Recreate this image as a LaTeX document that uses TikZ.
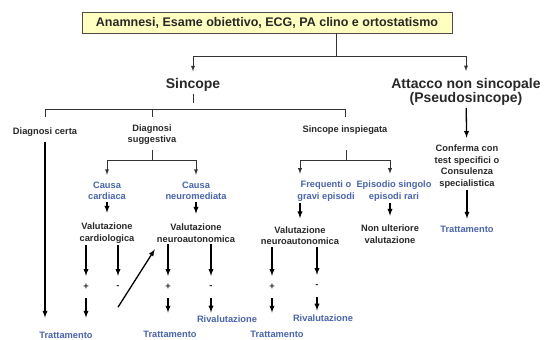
\documentclass[tikz,border=0pt]{standalone}
\usepackage{fontspec}
\setmainfont{Liberation Sans}
\usepackage{tikz}
\usetikzlibrary{arrows, positioning}
\definecolor{txt}{RGB}{40,40,40}
\definecolor{blu}{RGB}{72,100,178}
\definecolor{paleyellow}{RGB}{255,255,192}
\tikzstyle{topbox} = [rectangle, minimum width=370pt, minimum height=21pt, text centered, draw=black!70, fill=paleyellow, text=txt, font=\fontsize{12.5}{14}\selectfont\bfseries]
\tikzstyle{head} = [align=center, inner sep=2pt, text=txt, font=\fontsize{14}{14.5}\selectfont\bfseries]
\tikzstyle{lbl} = [align=center, inner sep=2pt, text=txt, font=\fontsize{9.3}{11.5}\selectfont\bfseries]
\tikzstyle{blu} = [lbl, text=blu]
\tikzstyle{sign} = [lbl, minimum height=22pt]
\tikzstyle{link} = [line width=0.9pt, draw=black!80]
\tikzstyle{linkarrow} = [link, ->, >=latex, shorten >=5pt]
\tikzstyle{arrow} = [line width=1.3pt, ->, >=latex]

\begin{document}
\begin{tikzpicture}[x=1pt, y=-1pt]
\useasboundingbox (0,0) rectangle (544,340);
% first level
\node (esame) [topbox] at (267,22.5) {Anamnesi, Esame obiettivo, ECG, PA clino e ortostatismo};
\node (sincope) [head] at (193,85) {Sincope};
\node (attacco) [head] at (466,92) {Attacco non sincopale\\(Pseudosincope)};
\coordinate (split) at (336,56);
\draw [link] (split |- esame.south) -- (split);
\draw [linkarrow] (split) -| (sincope);
\draw [linkarrow] (split) -| (attacco);
% sincope
\node (certa) [lbl] at (45,132) {Diagnosi certa};
\node (sugg) [lbl] at (152,134.5) {Diagnosi\\suggestiva};
\node (inspieg) [lbl] at (345,130) {Sincope inspiegata};
\coordinate (sbar) at (193,109);
\draw [link] (sincope.south) -- ++(0,9);
\draw [link] (sbar -| certa) ++(0,8) -- (sbar -| certa) -- (sbar -| inspieg) -- ++(0,8);
\draw [link] (sbar -| sugg) -- ++(0,8);
% second level
\node (cardiaca) [blu] at (107,191) {Causa\\cardiaca};
\node (neuromed) [blu] at (196,191) {Causa\\neuromediata};
\node (frequenti) [blu] at (326,191) {Frequenti o\\gravi episodi};
\node (episodio) [blu] at (394,191) {Episodio singolo\\episodi rari};
\node (valcard) [lbl] at (107,233) {Valutazione\\cardiologica};
\node (valneuro1) [lbl] at (196,233) {Valutazione\\neuroautonomica};
\node (valneuro2) [lbl] at (300,235.5) {Valutazione\\neuroautonomica};
\node (nonult) [lbl] at (390,234) {Non ulteriore\\valutazione};
\coordinate (sugbar) at (152,160);
\draw [link] (sugbar) -- ++(0,-10);
\draw [linkarrow] (sugbar) -| (cardiaca);
\draw [linkarrow] (sugbar) -| (neuromed);
\coordinate (insbar) at (346,160);
\draw [link] (insbar) -- ++(0,-10);
\draw [linkarrow] (insbar) -| (valneuro2 |- frequenti.north);
\draw [linkarrow] (insbar) -| (nonult |- episodio.north);
\draw [arrow, shorten >=8pt] (cardiaca) -- (valcard);
\draw [arrow, shorten >=8pt] (neuromed) -- (valneuro1);
\draw [arrow, shorten >=6pt] (frequenti.south -| valneuro2) -- (valneuro2);
\draw [arrow, shorten >=7pt] (episodio.south -| nonult) -- (nonult);
% pseudosincope
\node (conferma) [lbl] at (467,166.5) {Conferma con\\test specifici o\\Consulenza\\specialistica};
\node (trattC) [blu] at (467,229) {Trattamento};
\draw [arrow, shorten >=5pt] (attacco) -- (conferma);
\draw [arrow, shorten >=5pt] (conferma) -- (trattC);
% esiti
\node (plus1) [sign] at (86,287) {+};
\node (minus1) [sign] at (118,287) {-};
\node (plus2) [sign] at (168,287) {+};
\node (minus2) [sign] at (211,287) {-};
\node (plus3) [sign] at (272,287) {+};
\node (minus3) [sign] at (317,286) {-};
\node (tratt1) [blu] at (66,335) {Trattamento};
\node (tratt2) [blu] at (170,334) {Trattamento};
\node (riv1) [blu] at (227,319) {Rivalutazione};
\node (tratt3) [blu] at (277,334) {Trattamento};
\node (riv2) [blu] at (323,318) {Rivalutazione};
\draw [arrow, shorten <=3pt, shorten >=12pt] (certa) -- (certa |- tratt1.north);
\draw [arrow] (valcard.south -| plus1) -- (plus1);
\draw [arrow] (valcard.south -| minus1) -- (minus1);
\draw [arrow] (valneuro1.south -| plus2) -- (plus2);
\draw [arrow] (valneuro1.south -| minus2) -- (minus2);
\draw [arrow] (valneuro2.south -| plus3) -- (plus3);
\draw [arrow] (valneuro2.south -| minus3) -- (minus3);
\draw [arrow, shorten >=12pt] (plus1) -- (plus1 |- tratt1.north);
\draw [arrow, shorten >=16pt] (plus2) -- (plus2 |- tratt2.north);
\draw [arrow, shorten >=1pt] (minus2) -- (minus2 |- riv1.north);
\draw [arrow, shorten >=16pt] (plus3) -- (plus3 |- tratt3.north);
\draw [arrow, shorten >=2pt] (minus3) -- (minus3 |- riv2.north);
\draw [arrow] ([yshift=-9pt]minus1.south) -- ([yshift=-5pt]valneuro1.south west);
\end{tikzpicture}
\end{document}
